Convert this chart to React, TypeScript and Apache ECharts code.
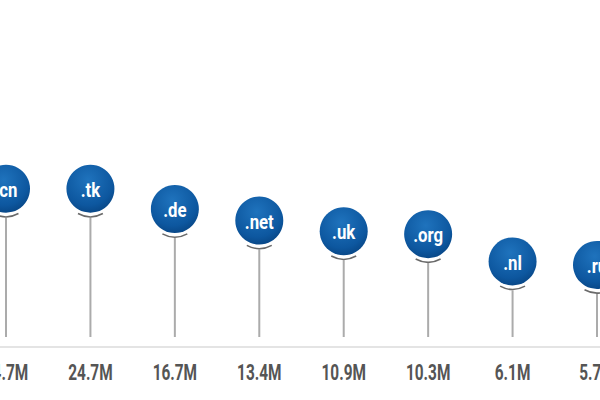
import React, { useEffect, useRef } from "react";
import * as echarts from "echarts";

const domains = [".cn", ".tk", ".de", ".net", ".uk", ".org", ".nl", ".ru"];
const registrations = [24.7, 24.7, 16.7, 13.4, 10.9, 10.3, 6.1, 5.7];
const valueLabels = ["24.7M", "24.7M", "16.7M", "13.4M", "10.9M", "10.3M", "6.1M", "5.7M"];

const FONT = "Roboto, sans-serif";

export default function App() {
  const ref = useRef<HTMLDivElement>(null);
  useEffect(() => {
    document.body.style.margin = "0";
    const chart = echarts.init(ref.current!, null, { renderer: "svg" });
    const fill = new echarts.graphic.RadialGradient(0.45, 0.32, 0.75, [
      { offset: 0, color: "#1f73bd" },
      { offset: 0.7, color: "#0d579f" },
      { offset: 1, color: "#07427f" },
    ]);
    chart.setOption({
      animation: false,
      backgroundColor: "#ffffff",
      grid: { left: 6, right: 3, top: 116, bottom: 63, outerBoundsMode: "none", containLabel: false },
      xAxis: {
        type: "category",
        data: domains,
        boundaryGap: false,
        axisLine: { show: false },
        axisTick: { show: false },
        splitLine: { show: false },
        axisLabel: { show: false },
      },
      yAxis: {
        type: "log",
        logBase: 10,
        min: 1.424,
        max: 100,
        show: false,
        splitLine: { show: false },
      },
      graphic: [
        {
          type: "line",
          shape: { x1: 0, y1: 347, x2: 600, y2: 347 },
          style: { stroke: "#e4e4e4", lineWidth: 2 },
          silent: true,
        },
      ],
      series: [
        {
          type: "custom",
          data: registrations.map((v, i) => [i, v]),
          encode: { x: 0, y: 1 },
          clip: false,
          renderItem: (params: any, api: any) => {
            const idx = api.value(0);
            const v = api.value(1);
            const p = api.coord([idx, v]);
            const baseY = params.coordSys.y + params.coordSys.height;
            return {
              type: "group",
              children: [
                {
                  type: "line",
                  shape: { x1: p[0], y1: p[1] + 29, x2: p[0], y2: baseY },
                  style: { stroke: "#ababab", lineWidth: 2 },
                },
                {
                  type: "arc",
                  shape: {
                    cx: p[0],
                    cy: p[1] + 2,
                    r: 26,
                    startAngle: Math.PI / 2 - 0.5,
                    endAngle: Math.PI / 2 + 0.5,
                  },
                  style: { stroke: "#6a6a6a", lineWidth: 1.5, fill: null },
                },
                {
                  type: "circle",
                  shape: { cx: p[0], cy: p[1], r: 24 },
                  style: { fill },
                },
                {
                  type: "text",
                  x: p[0],
                  y: p[1] + 1,
                  scaleX: 0.8,
                  style: {
                    text: domains[idx],
                    x: 0,
                    y: 0,
                    align: "center",
                    verticalAlign: "middle",
                    fill: "#ffffff",
                    fontFamily: FONT,
                    fontSize: 21,
                    fontWeight: "bold",
                  },
                },
                {
                  type: "text",
                  x: p[0],
                  y: baseY + 35,
                  scaleX: 0.7,
                  style: {
                    text: valueLabels[idx],
                    x: 0,
                    y: 0,
                    align: "center",
                    verticalAlign: "middle",
                    fill: "#555555",
                    fontFamily: FONT,
                    fontSize: 22,
                    fontWeight: "bold",
                  },
                },
              ],
            };
          },
        },
      ],
    });
    return () => chart.dispose();
  }, []);
  return <div ref={ref} style={{ width: 600, height: 400 }} />;
}
